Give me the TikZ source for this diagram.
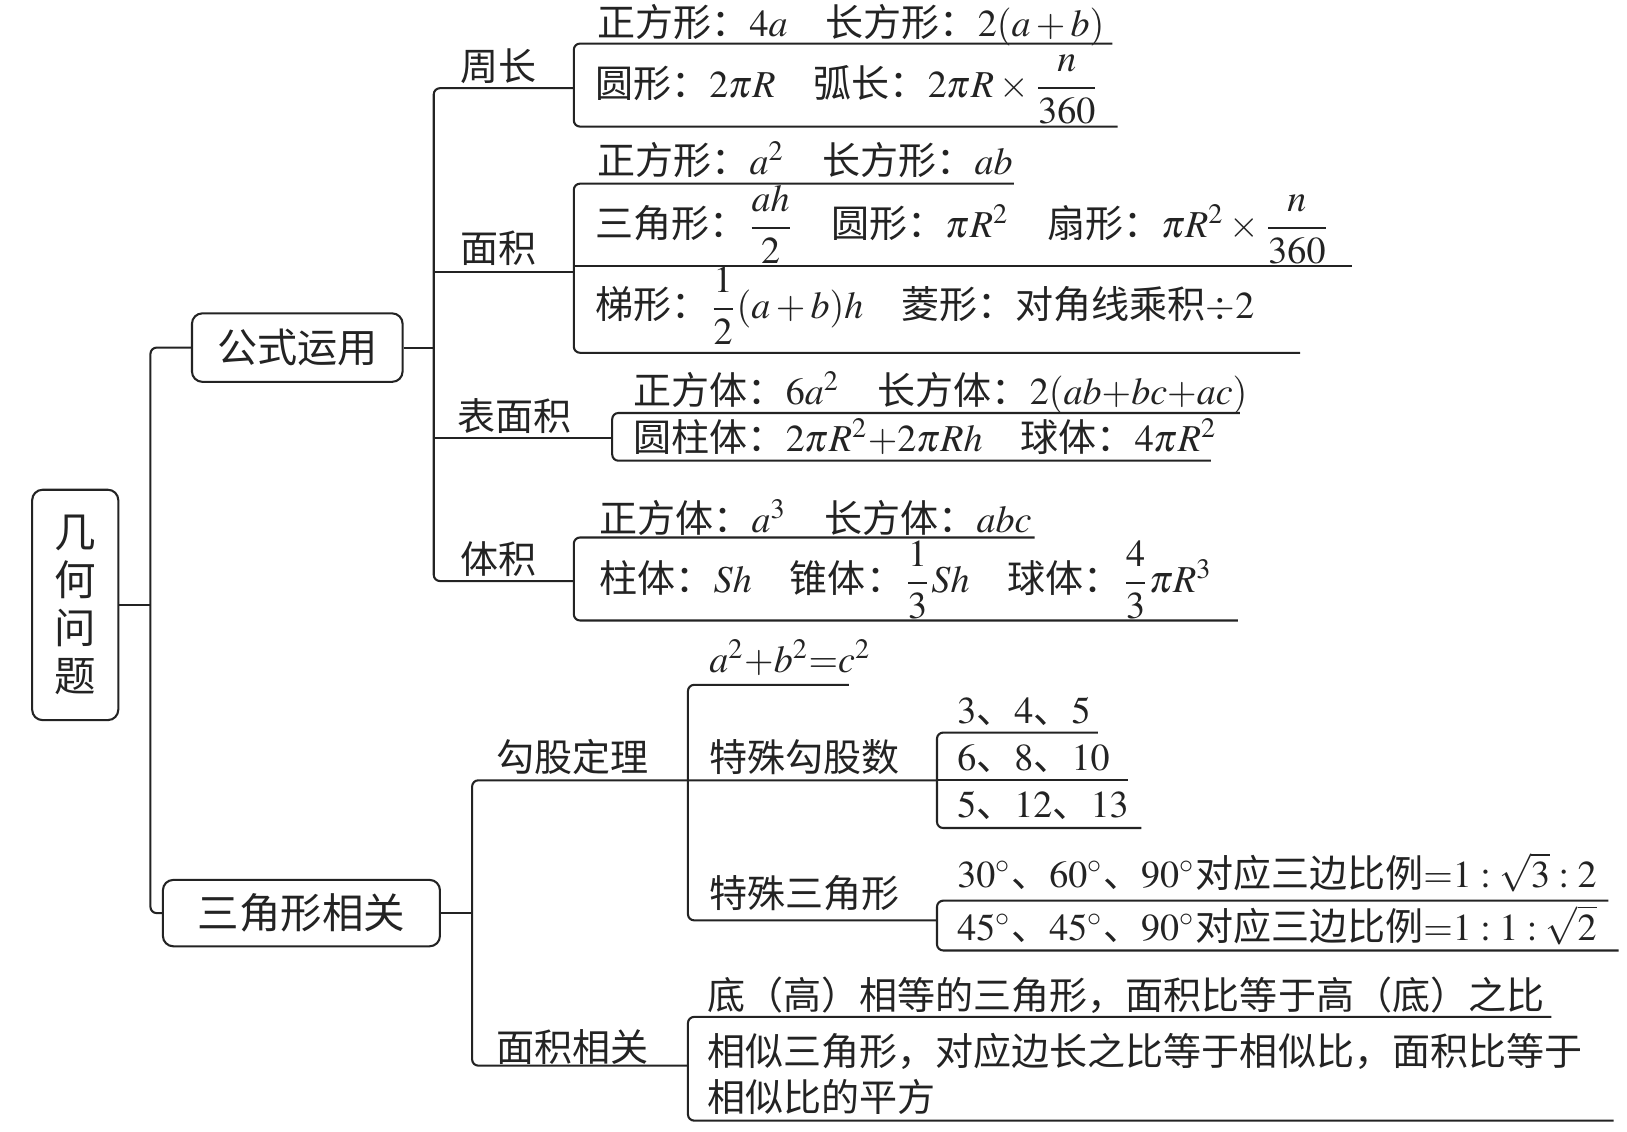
\documentclass[tikz,border=0pt]{standalone}
\usepackage{amsmath}
\usepackage{mathptmx}
\usepackage{fontspec}
\setmainfont{Liberation Serif}
\newfontfamily\cjk{Noto Sans CJK SC}
\usetikzlibrary{positioning}
\definecolor{ink}{RGB}{35,35,35}
\tikzset{
  mbox/.style={rectangle, rounded corners=3pt, draw=ink, line width=0.6pt, text=ink, align=center, inner sep=0pt, font=\cjk\fontsize{11.6}{13.8}\selectfont},
  blabel/.style={anchor=base west, inner sep=0pt, text=ink, font=\cjk\fontsize{11}{13.5}\selectfont},
  leaf/.style={blabel},
  link/.style={draw=ink, line width=0.6pt, rounded corners=1.8pt}
}

\begin{document}
\begin{tikzpicture}[x=0.3pt,y=-0.3pt]
\useasboundingbox (0,0) rectangle (1568,1090);
% main boxes
\node[mbox, minimum width=24.9pt, minimum height=66.6pt, font=\cjk\fontsize{12}{13.8}\selectfont] (root) at (72.5,583) {几\\何\\问\\题};
\node[mbox, minimum width=60.9pt, minimum height=19.8pt] (gs) at (286.5,335) {公式运用};
\node[mbox, minimum width=80.1pt, minimum height=19.2pt, font=\cjk\fontsize{12}{14}\selectfont] (sj) at (290.5,880) {三角形相关};

% branch labels
\node[blabel] (zc) at (443,78) {周长};
\node[blabel] (mj) at (443,253) {面积};
\node[blabel] (bmj) at (440,415) {表面积};
\node[blabel] (tj) at (443,553) {体积};
\node[blabel] (gg) at (478,744) {勾股定理};
\node[blabel] (mx) at (478,1023) {面积相关};
\node[blabel] (tsg) at (683,744) {特殊勾股数};
\node[blabel] (tss) at (683,875) {特殊三角形};

% leaves
\node[leaf] (zc1) at (575,35) {正方形：$4a$\quad 长方形：$2(a+b)$};
\node[leaf] (zc2) at (573,94) {圆形：$2\pi R$\quad 弧长：$2\pi R\times\dfrac{n}{360}$};
\node[leaf] (mj1) at (575,168) {正方形：$a^2$\quad 长方形：$ab$};
\node[leaf] (mj2) at (573,229) {三角形：$\dfrac{ah}{2}$\quad 圆形：$\pi R^2$\quad 扇形：$\pi R^2\times\dfrac{n}{360}$};
\node[leaf] (mj3) at (573,307) {梯形：$\dfrac{1}{2}(a+b)h$\quad 菱形：对角线乘积$\div 2$};
\node[leaf] (bm1) at (610,390) {正方体：$6a^2$\quad 长方体：$2(ab{+}bc{+}ac)$};
\node[leaf] (bm2) at (610,435) {圆柱体：$2\pi R^2{+}2\pi Rh$\quad 球体：$4\pi R^2$};
\node[leaf] (tj1) at (577,513) {正方体：$a^3$\quad 长方体：$abc$};
\node[leaf] (tj2) at (577,571) {柱体：$Sh$\quad 锥体：$\dfrac{1}{3}Sh$\quad 球体：$\dfrac{4}{3}\pi R^3$};
\node[leaf] (gg1) at (683,648) {$a^2{+}b^2{=}c^2$};
\node[leaf] (sg1) at (922,697) {$3$、$4$、$5$};
\node[leaf] (sg2) at (922,743) {$6$、$8$、$10$};
\node[leaf] (sg3) at (922,788) {$5$、$12$、$13$};
\node[leaf] (ss1) at (922,855) {$30^\circ$、$60^\circ$、$90^\circ$对应三边比例$\mathord{=}1:\smash[b]{\sqrt{3}}:2$};
\node[leaf] (ss2) at (922,906) {$45^\circ$、$45^\circ$、$90^\circ$对应三边比例$\mathord{=}1:1:\sqrt{2}$};
\node[leaf] (mx1) at (681,973) {底（高）相等的三角形，面积比等于高（底）之比};
\node[leaf, anchor=west, align=left] (mx2) at (681,1035) {相似三角形，对应边长之比等于相似比，面积比等于\\相似比的平方};

% attach points
\coordinate (ta) at (145,583);
\coordinate (tb) at (418,335);
\coordinate (tc) at (455,880);
\coordinate (zcB) at (553,85);
\coordinate (mjB) at (553,262);
\coordinate (bmB) at (590,422);
\coordinate (tjB) at (553,560);
\coordinate (ggT) at (663,660);
\coordinate (ggB) at (663,752);
\coordinate (sgB) at (903,752);
\coordinate (ssB) at (903,887);
\coordinate (mxB) at (663,1027);

% connectors
\draw[link] (root.east) -- (ta);
\draw[link] (gs.west) -- (gs.west -| ta) |- (sj.west);
\draw[link] (gs.east) -- (tb);
\draw[link] (zcB) -- (zcB -| tb) -- (tjB -| tb) -- (tjB);
\draw[link] (mjB -| tb) -- (mjB);
\draw[link] (bmB -| tb) -- (bmB);
\draw[link] (sj.east) -- (tc);
\draw[link] (sgB) -- (ggB -| tc) -- (mxB -| tc) -- (mxB);
\draw[link] (818,660) -- (ggT) -- (ggT |- ssB) -- (ssB);

% brackets
\draw[link] (1072,42) -- (553,42) -- (553,122) -- (1077,122);
\draw[link] (977,177) -- (553,177) -- (553,340) -- (1253,340);
\draw[link] (553,256) -- (1303,256);
\draw[link] (1195,398) -- (590,398) -- (590,444) -- (1167,444);
\draw[link] (997,518) -- (553,518) -- (553,598) -- (1193,598);
\draw[link] (1058,706) -- (903,706) -- (903,798) -- (1100,798);
\draw[link] (sgB) -- (1087,752);
\draw[link] (1550,868) -- (903,868) -- (903,916) -- (1560,916);
\draw[link] (1495,980) -- (663,980) -- (663,1080) -- (1555,1080);
\end{tikzpicture}
\end{document}
